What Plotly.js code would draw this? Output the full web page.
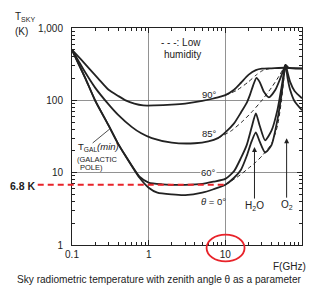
<!DOCTYPE html>
<html><head><meta charset="utf-8">
<script src="https://cdn.plot.ly/plotly-3.0.1.min.js"></script>
<style>html,body{margin:0;padding:0;background:#fff;overflow:hidden}#chart{width:310px;height:287px;}</style>
</head><body><div id="chart"></div>
<script>
// ---- data (frequency GHz, temperature K) ----
const freq90 = [0.1, 0.13, 0.17, 0.22, 0.3, 0.4, 0.5, 0.65, 0.85, 1.2, 2, 3, 5, 7, 10, 13, 16, 20, 25, 30, 40, 60, 80, 100];
const temp90 = [500, 370, 270, 200, 140, 115, 100, 90, 85, 85, 87, 90, 98, 106, 118, 140, 175, 225, 262, 274, 277, 282, 278, 276];

const freq85 = [0.1, 0.12, 0.15, 0.2, 0.3, 0.4, 0.6, 0.8, 1.1, 2, 4, 6, 8, 10, 13, 16, 19, 21, 23, 25.5, 28, 32, 37, 45, 52, 57, 61, 66, 75, 100];
const temp85 = [500, 360, 240, 150, 88, 63, 43, 35, 30, 26, 25.5, 27, 30, 36, 48, 68, 92, 120, 160, 205, 180, 130, 110, 140, 200, 260, 310, 285, 276, 274];

const freq60 = [0.1, 0.12, 0.15, 0.2, 0.3, 0.4, 0.5, 0.76, 1.0, 1.5, 2, 3, 5, 7, 10, 13, 16, 19, 22, 25, 28, 33, 40, 48, 54, 58, 61, 65, 70, 80, 100];
const temp60 = [500, 330, 200, 100, 45, 25, 17, 8.8, 7.3, 6.9, 6.8, 6.8, 7.0, 7.5, 8.2, 10.5, 16, 24, 42, 66, 45, 28, 38, 75, 150, 240, 310, 240, 180, 135, 107];

const freq0 = [0.1, 0.12, 0.15, 0.2, 0.3, 0.4, 0.5, 0.76, 1.0, 1.3, 2, 3, 5, 7, 10, 13, 16, 19, 22, 25, 28, 33, 40, 48, 54, 58, 61, 65, 70, 80, 100];
const temp0 = [500, 330, 200, 100, 45, 25, 17, 8.5, 6.2, 5.3, 5.0, 4.9, 5.3, 5.9, 6.8, 8.5, 11, 17, 27, 36, 27, 19, 24, 55, 120, 220, 310, 200, 140, 97, 73];

const freq90Dry = [10, 14, 20, 25, 30, 38];
const temp90Dry = [118, 137, 180, 222, 255, 275];
const freq85Dry = [8, 12, 17, 23, 30, 40, 50, 56, 61];
const temp85Dry = [30, 38, 52, 72, 100, 150, 215, 265, 310];
const freq0Dry = [10, 15, 20, 25, 30, 40, 48, 54, 58, 61];
const temp0Dry = [6.8, 9, 11.5, 14, 17, 25, 45, 100, 200, 310];

const lineNames = ['H<sub>2</sub>O', 'O<sub>2</sub>'];
const lineFreq = [24, 63];
const lineArrowTipT = [22.6, 30];

const markedTemp = 6.8;           // 6.8 K reference
const xTickVals = [0.1, 1, 10, 100];
const xTickText = ['0.1', '1', '10', '100'];
const yTickVals = [1, 10, 100, 1000];
const yTickText = ['1', '10', '100', '1,000'];

// ---- layout helpers (pixel -> paper) ----
const L = 72.3, R = 302.5, T = 27.5, B = 245.5;
const px = x => (x - L) / (R - L);
const py = y => (B - y) / (B - T);

const FONT = 'Liberation Sans, Arial, sans-serif';
const INK = '#222';

function solid(x, y) {
  return {x: x, y: y, type: 'scatter', mode: 'lines', hoverinfo: 'skip',
          line: {color: INK, width: 1.8, shape: 'spline', smoothing: 0.6}};
}
function dashed(x, y) {
  return {x: x, y: y, type: 'scatter', mode: 'lines', hoverinfo: 'skip',
          line: {color: INK, width: 1, dash: '4px,3px', shape: 'spline', smoothing: 0.6}};
}

const data = [
  solid(freq90, temp90), solid(freq85, temp85), solid(freq60, temp60), solid(freq0, temp0),
  dashed(freq90Dry, temp90Dry), dashed(freq85Dry, temp85Dry), dashed(freq0Dry, temp0Dry)
];

function txt(text, x, y, size, opts) {
  return Object.assign({text: text, xref: 'paper', yref: 'paper', x: px(x), y: py(y),
    showarrow: false, xanchor: 'center', yanchor: 'middle',
    font: {family: FONT, size: size, color: INK}}, opts || {});
}

const annotations = [
  txt('T<sub>SKY</sub>', 13, 16, 10, {xanchor: 'left'}),
  txt('(K)', 13, 31, 10, {xanchor: 'left'}),
  txt('- - -: Low', 203, 42, 10, {xanchor: 'right'}),
  txt('humidity', 203, 54, 10, {xanchor: 'right'}),
  txt('90°', 210, 94, 9.5),
  txt('85°', 210, 133, 9.5),
  txt('60°', 209, 173, 9.5, {bgcolor: '#fff', borderpad: 0}),
  txt('<i>θ</i> = 0°', 214, 202, 9.5),
  txt('T<sub>GAL</sub><i>(min)</i>', 76, 147, 9.5, {xanchor: 'left'}),
  txt('(GALACTIC', 75, 160, 7.5, {xanchor: 'left'}),
  txt('POLE)', 78, 168, 7.5, {xanchor: 'left'}),
  txt('<b>6.8 K</b>', 8, 186, 10.5, {xanchor: 'left'}),
  txt('F(GHz)', 309, 267, 10, {xanchor: 'right'}),
  txt('Sky radiometric temperature with zenith angle θ as a parameter', 15, 280, 10.1, {xanchor: 'left'})
];
lineNames.forEach((n, i) => {
  annotations.push({text: n, x: Math.log10(lineFreq[i]), y: Math.log10(lineArrowTipT[i]),
    xref: 'x', yref: 'y', showarrow: true, arrowhead: 2, arrowsize: 1, arrowwidth: 1,
    arrowcolor: INK, ax: 0, ay: 59 + (i === 1 ? 8 : 0), font: {family: FONT, size: 10, color: INK}});
});

const shapes = [
  {type: 'line', xref: 'paper', yref: 'y', x0: px(38), x1: px(226), y0: markedTemp, y1: markedTemp,
   line: {color: '#e8232a', width: 2, dash: '6px,4px'}},
  {type: 'circle', xref: 'paper', yref: 'paper', x0: px(207), x1: px(245), y0: py(262), y1: py(235),
   line: {color: '#e8232a', width: 1.8}},
  {type: 'line', xref: 'paper', yref: 'paper', x0: px(93), y0: py(143), x1: px(110), y1: py(129),
   line: {color: INK, width: 0.8}}
];

const axisCommon = {
  type: 'log', showline: true, linecolor: INK, linewidth: 1, mirror: 'ticks',
  ticks: 'inside', ticklen: 5, tickcolor: INK, tickwidth: 1,
  showgrid: true, gridcolor: '#777', gridwidth: 0.8, zeroline: false,
  tickmode: 'array', tickfont: {family: FONT, size: 10, color: INK},
  minor: {ticks: 'inside', ticklen: 3, tickcolor: INK, dtick: 'D1', showgrid: false}
};

const layout = {
  width: 310, height: 287,
  margin: {l: L, r: 310 - R, t: T, b: 287 - B, pad: 0},
  paper_bgcolor: '#fff', plot_bgcolor: '#fff', showlegend: false,
  xaxis: Object.assign({}, axisCommon, {range: [-1, 2], tickvals: xTickVals, ticktext: xTickText}),
  yaxis: Object.assign({}, axisCommon, {range: [0, 3], tickvals: yTickVals, ticktext: yTickText, ticklabelstandoff: 6}),
  annotations: annotations, shapes: shapes
};

Plotly.newPlot('chart', data, layout, {staticPlot: true, displayModeBar: false});
</script></body></html>
